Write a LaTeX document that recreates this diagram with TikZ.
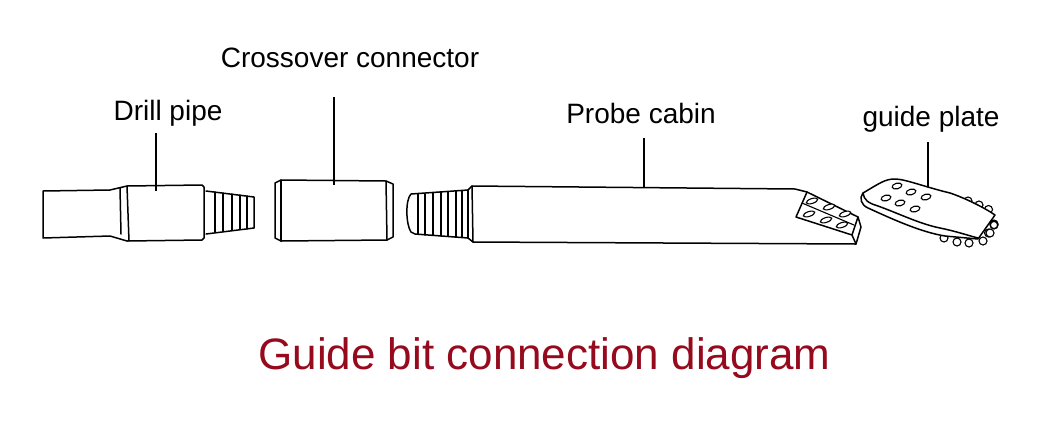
\documentclass[tikz,border=0pt]{standalone}
\usepackage{fontspec}
\setmainfont{Liberation Sans}
\definecolor{titlered}{RGB}{150,10,30}
\tikzset{
  ink/.style={draw=black,line width=1.5pt,line join=round,line cap=round},
  thin ink/.style={draw=black,line width=1.1pt,line cap=round},
  leader/.style={draw=black,line width=1.1pt},
  lab/.style={font=\fontsize{28}{32}\selectfont,text=black,inner sep=0pt},
  titlelab/.style={font=\fontsize{44}{50}\selectfont,text=titlered,inner sep=0pt},
  hole/.style={draw=black,line width=1.1pt,fill=white},
  tooth/.style={draw=black,line width=1.1pt,fill=white}
}
\begin{document}
\begin{tikzpicture}[x=1pt,y=-1pt]
\useasboundingbox[fill=white] (0,0) rectangle (1060,424);
% labels
\node[lab] (drill) at (168,113) {Drill pipe};
\node[lab] (cross) at (350,58) {Crossover connector};
\node[lab] (probe) at (641,113) {Probe cabin};
\node[lab] (guide) at (931,119) {guide plate};
\node[titlelab] (title) at (544.5,358) {Guide bit connection diagram};
% anchors of leaders
\coordinate (drillTop) at (156,133); \coordinate (drillEnd) at (156,191);
\coordinate (crossTop) at (334,97); \coordinate (crossEnd) at (334,185);
\coordinate (probeTop) at (644,138); \coordinate (probeEnd) at (644,187);
\coordinate (guideTop) at (928,142); \coordinate (guideEnd) at (928,189);
\draw[leader] (drillTop) -- (drillEnd);
\draw[leader] (crossTop) -- (crossEnd);
\draw[leader] (probeTop) -- (probeEnd);
\draw[leader] (guideTop) -- (guideEnd);
% drill pipe
\draw[ink] (43,238) -- (43,191) -- (110,190) -- (127,186) -- (202,185) -- (204,187) -- (204,238) -- (202,240) -- (127,241) -- (110,236) -- (43,238);
\draw[ink] (127,186) -- (129,241);
\draw[ink] (120,188) -- (121,234);
\draw[ink] (206,191) -- (254,197) -- (254,228) -- (206,234);
\foreach \x/\a/\b in {215/192/232,223/193/231,232/194/230,240/195/229,247/196/229}
  \draw[thin ink] (\x,\a) -- (\x,\b);
% crossover
\draw[ink] (281,180) -- (386,181) -- (393,184) -- (393,237) -- (387,240) -- (281,241) -- (275,238) -- (275,183) -- cycle;
\draw[ink] (281,180) -- (281,241);
\draw[ink] (386,181) -- (387,240);
% probe thread
\draw[ink] (468,190) -- (411,194) .. controls (405,200) and (406,225) .. (411,232) -- (415,234) -- (468,238);
\foreach \x/\a/\b in {418/194/234,425/194/235,433/193/235,441/192/236,448/192/236,456/191/237,462/191/237,468/190/238}
  \draw[ink] (\x,\a) -- (\x,\b);
% probe body
\draw[ink] (468,190) -- (472,186) -- (795,189) -- (807,192) -- (858,217) -- (861,227) -- (856,244) -- (473,242) -- (468,238);
\draw[ink] (472,186) -- (473,242);
\draw[ink] (807,192) -- (796,217) -- (852,235) -- (858,217);
\draw[ink] (852,235) -- (856,244);
\draw[thin ink] (802,203) -- (854,225);
\foreach \x/\y in {812/201,829/207,845/214,809/214,826/220,842/225}
  \draw[hole,rotate around={18:(\x,\y)}] (\x,\y) ellipse [x radius=6,y radius=2.4];
% guide plate teeth
\foreach \x/\y in {968/201,979/205,988.5/209.5,944/238,957/242,969/243,983/241,988.5/233,994/224,994/225}
  \draw[tooth] (\x,\y) circle (4);
\draw[tooth] (994,225) circle (3.6);
\draw[tooth] (990,233) circle (4);
% guide plate
\draw[ink,fill=white] (863,193) .. controls (880,183) and (885,179) .. (895,179)
  .. controls (905,179) and (925,187) .. (950,193)
  .. controls (965,198) and (985,208) .. (995,215)
  -- (978,239) -- (945,236)
  .. controls (920,232) and (890,218) .. (868,208)
  .. controls (861,205) and (859,198) .. (863,193) -- cycle;
\draw[ink] (863,193) .. controls (864,200) and (868,203) .. (878,206)
  .. controls (900,214) and (920,224) .. (940,228)
  .. controls (955,231) and (970,236) .. (978,238);
\foreach \x/\y in {897/186,911/192,926/197,886/198,900/203,915/209}
  \draw[hole,rotate around={15:(\x,\y)}] (\x,\y) ellipse [x radius=5,y radius=2.8];
\end{tikzpicture}
\end{document}
